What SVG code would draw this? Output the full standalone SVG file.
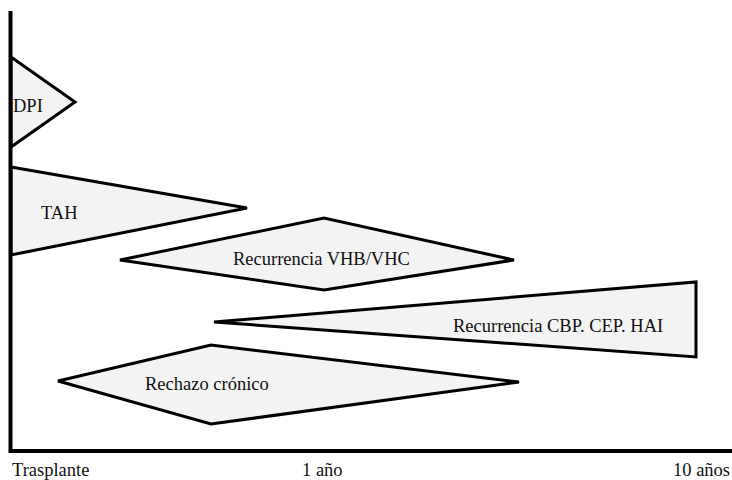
<svg xmlns="http://www.w3.org/2000/svg" width="732" height="480" viewBox="0 0 732 480">
<style>
.shape{fill:#f3f3f3;stroke:#000;stroke-width:3;stroke-linejoin:miter}
.axis{fill:none;stroke:#000;stroke-width:4}
text{font-family:"Liberation Serif","Times New Roman",serif;font-size:18.5px;fill:#111}
</style>
<rect width="732" height="480" fill="#fff"/>
<g id="dpi"><polygon class="shape" points="11,57 75,102 11,147"/><text x="13" y="112">DPI</text></g>
<g id="tah"><polygon class="shape" points="11,167 247,208 11,255"/><text x="41" y="219">TAH</text></g>
<g id="vhb"><polygon class="shape" points="120,260 324,218 514,260 324,290"/><text x="233" y="265">Recurrencia VHB/VHC</text></g>
<g id="cbp"><polygon class="shape" points="214,322 696,282 696,357"/><text x="453" y="332">Recurrencia CBP. CEP. HAI</text></g>
<g id="rechazo"><polygon class="shape" points="58,381 211,345 519,382 211,424"/><text x="145" y="390">Rechazo crónico</text></g>
<g id="axes"><polyline class="axis" points="10.5,11 10.5,451 732,451"/></g>
<g id="labels"><text x="12" y="476">Trasplante</text><text x="302" y="476">1 año</text><text x="673" y="476">10 años</text></g>
</svg>
